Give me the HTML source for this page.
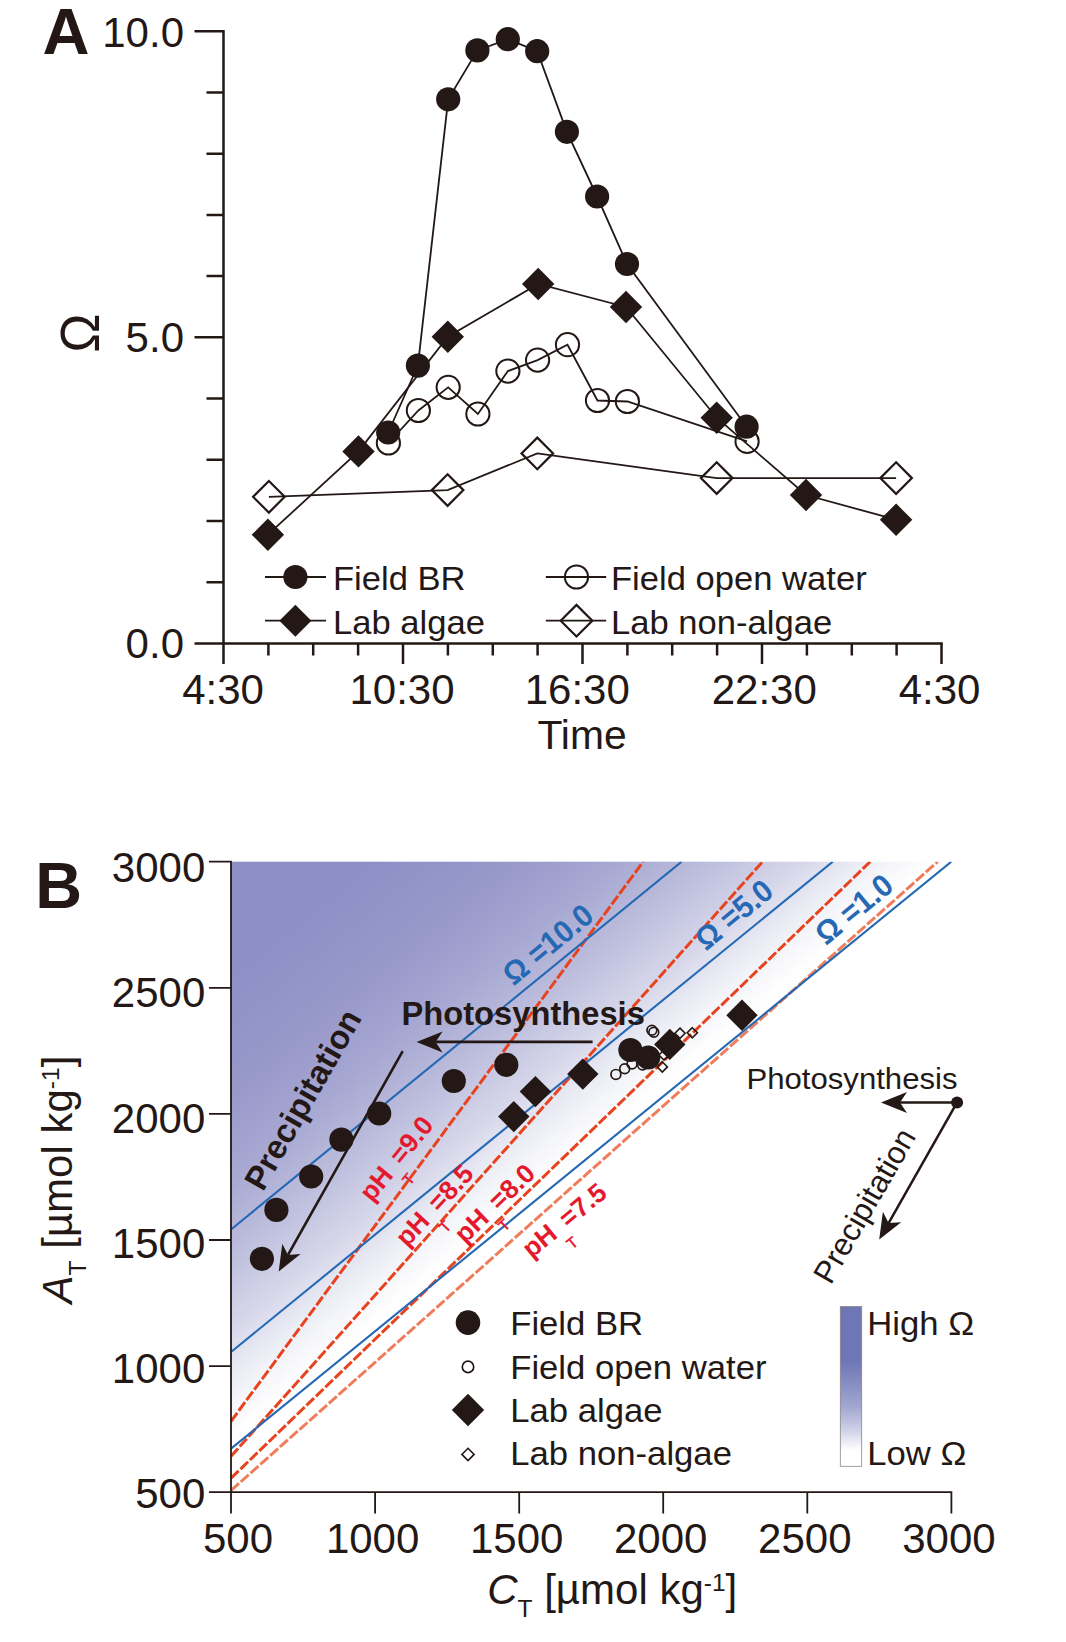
<!DOCTYPE html>
<html><head><meta charset="utf-8"><title>Figure</title>
<style>
html,body{margin:0;padding:0;background:#fff}
svg{display:block}
text{font-family:"Liberation Sans",sans-serif;fill:#231815}
.b{font-weight:bold}
.i{font-style:italic}
</style></head><body>
<svg width="1066" height="1642" viewBox="0 0 1066 1642">
<defs>
<linearGradient id="g1" gradientUnits="userSpaceOnUse" x1="231" y1="862" x2="522.6" y2="1217.6">
<stop offset="0.000" stop-color="#8e8fc5"/><stop offset="0.185" stop-color="#8e8fc5"/><stop offset="0.283" stop-color="#9293c7"/><stop offset="0.391" stop-color="#9899ca"/><stop offset="0.500" stop-color="#a3a4d0"/><stop offset="0.598" stop-color="#b2b3d7"/><stop offset="0.683" stop-color="#c1c2df"/><stop offset="0.793" stop-color="#d8d8eb"/><stop offset="0.865" stop-color="#eaecf4"/><stop offset="0.902" stop-color="#f3f4f9"/><stop offset="0.967" stop-color="#fefefe"/><stop offset="1.000" stop-color="#ffffff"/></linearGradient>
<linearGradient id="g2" x1="0" y1="0" x2="0" y2="1"><stop offset="0" stop-color="#6e76b6"/><stop offset="0.34" stop-color="#6e76b6"/><stop offset="0.62" stop-color="#a0a5d0"/><stop offset="0.77" stop-color="#cdd0e6"/><stop offset="0.9" stop-color="#ffffff"/><stop offset="1" stop-color="#ffffff"/></linearGradient>
<clipPath id="cp"><rect x="231.0" y="861.7" width="720.8" height="630.5"/></clipPath>
</defs>
<rect width="1066" height="1642" fill="#fff"/>
<g stroke="#231815" stroke-width="2.5" fill="none">
<path d="M223.5 29.9V643.5H942.8"/>
<path d="M223.5 31.2h-29.0M223.5 92.4h-17.0M223.5 153.7h-17.0M223.5 214.9h-17.0M223.5 276.1h-17.0M223.5 337.3h-29.0M223.5 398.6h-17.0M223.5 459.8h-17.0M223.5 521.0h-17.0M223.5 582.3h-17.0M223.5 643.5h-29.0M223.5 643.5v20.5M268.4 643.5v12.0M313.2 643.5v12.0M358.1 643.5v12.0M403.0 643.5v20.5M447.9 643.5v12.0M492.8 643.5v12.0M537.6 643.5v12.0M582.5 643.5v20.5M627.4 643.5v12.0M672.2 643.5v12.0M717.1 643.5v12.0M762.0 643.5v20.5M806.9 643.5v12.0M851.8 643.5v12.0M896.6 643.5v12.0M941.5 643.5v20.5"/>
</g>
<g font-size="42" text-anchor="end">
<text x="184" y="46.5">10.0</text>
<text x="184" y="352.4">5.0</text>
<text x="184" y="658.4">0.0</text>
</g>
<g font-size="42" text-anchor="middle">
<text x="223.0" y="704.2">4:30</text>
<text x="402.0" y="704.2">10:30</text>
<text x="577.3" y="704.2">16:30</text>
<text x="764.3" y="704.2">22:30</text>
<text x="939.5" y="704.2">4:30</text>
</g>
<text x="582" y="749.3" font-size="40.8" text-anchor="middle">Time</text>
<text class="b" x="42.6" y="53.7" font-size="65" textLength="47" lengthAdjust="spacingAndGlyphs">A</text>
<text transform="translate(99.4 333) rotate(-90) scale(1 1.055)" font-size="52.6" text-anchor="middle">Ω</text>
<circle cx="388.4" cy="443.0" r="11.6" fill="none" stroke="#231815" stroke-width="2.0"/>
<circle cx="418.4" cy="410.5" r="11.6" fill="none" stroke="#231815" stroke-width="2.0"/>
<circle cx="448.2" cy="387.3" r="11.6" fill="none" stroke="#231815" stroke-width="2.0"/>
<circle cx="477.9" cy="414.0" r="11.6" fill="none" stroke="#231815" stroke-width="2.0"/>
<circle cx="507.9" cy="371.1" r="11.6" fill="none" stroke="#231815" stroke-width="2.0"/>
<circle cx="537.6" cy="360.1" r="11.6" fill="none" stroke="#231815" stroke-width="2.0"/>
<circle cx="567.5" cy="344.7" r="11.6" fill="none" stroke="#231815" stroke-width="2.0"/>
<circle cx="597.5" cy="400.5" r="11.6" fill="none" stroke="#231815" stroke-width="2.0"/>
<circle cx="627.4" cy="401.5" r="11.6" fill="none" stroke="#231815" stroke-width="2.0"/>
<circle cx="747.1" cy="441.4" r="11.6" fill="none" stroke="#231815" stroke-width="2.0"/>
<path d="M268.9 481.0l15.8 15.8l-15.8 15.8l-15.8 -15.8z" fill="none" stroke="#231815" stroke-width="2.2"/>
<path d="M447.6 474.3l15.8 15.8l-15.8 15.8l-15.8 -15.8z" fill="none" stroke="#231815" stroke-width="2.2"/>
<path d="M537.3 437.6l15.8 15.8l-15.8 15.8l-15.8 -15.8z" fill="none" stroke="#231815" stroke-width="2.2"/>
<path d="M716.7 462.3l15.8 15.8l-15.8 15.8l-15.8 -15.8z" fill="none" stroke="#231815" stroke-width="2.2"/>
<path d="M896.1 462.3l15.8 15.8l-15.8 15.8l-15.8 -15.8z" fill="none" stroke="#231815" stroke-width="2.2"/>
<polyline points="268.9,496.8 447.6,490.1 537.3,453.4 716.7,478.1 896.1,478.1" fill="none" stroke="#231815" stroke-width="1.8" stroke-linejoin="miter"/>
<polyline points="388.4,443.0 418.4,410.5 448.2,387.3 477.9,414.0 507.9,371.1 537.6,360.1 567.5,344.7 597.5,400.5 627.4,401.5 747.1,441.4" fill="none" stroke="#231815" stroke-width="1.8" stroke-linejoin="miter"/>
<polyline points="267.9,534.7 358.5,451.4 447.8,336.7 538.2,284.0 626.0,307.0 716.7,417.7 806.0,495.0 896.1,519.7" fill="none" stroke="#231815" stroke-width="1.8" stroke-linejoin="miter"/>
<polyline points="388.2,432.5 417.9,365.6 448.2,99.3 477.4,50.4 507.8,39.2 537.2,51.2 566.9,131.8 597.1,196.5 627.0,264.0 746.6,426.7" fill="none" stroke="#231815" stroke-width="1.8" stroke-linejoin="miter"/>
<path d="M267.9 518.5l16.2 16.2l-16.2 16.2l-16.2 -16.2z" fill="#231815"/>
<path d="M358.5 435.2l16.2 16.2l-16.2 16.2l-16.2 -16.2z" fill="#231815"/>
<path d="M447.8 320.5l16.2 16.2l-16.2 16.2l-16.2 -16.2z" fill="#231815"/>
<path d="M538.2 267.8l16.2 16.2l-16.2 16.2l-16.2 -16.2z" fill="#231815"/>
<path d="M626.0 290.8l16.2 16.2l-16.2 16.2l-16.2 -16.2z" fill="#231815"/>
<path d="M716.7 401.5l16.2 16.2l-16.2 16.2l-16.2 -16.2z" fill="#231815"/>
<path d="M806.0 478.8l16.2 16.2l-16.2 16.2l-16.2 -16.2z" fill="#231815"/>
<path d="M896.1 503.5l16.2 16.2l-16.2 16.2l-16.2 -16.2z" fill="#231815"/>
<circle cx="388.2" cy="432.5" r="12.1" fill="#231815"/>
<circle cx="417.9" cy="365.6" r="12.1" fill="#231815"/>
<circle cx="448.2" cy="99.3" r="12.1" fill="#231815"/>
<circle cx="477.4" cy="50.4" r="12.1" fill="#231815"/>
<circle cx="507.8" cy="39.2" r="12.1" fill="#231815"/>
<circle cx="537.2" cy="51.2" r="12.1" fill="#231815"/>
<circle cx="566.9" cy="131.8" r="12.1" fill="#231815"/>
<circle cx="597.1" cy="196.5" r="12.1" fill="#231815"/>
<circle cx="627.0" cy="264.0" r="12.1" fill="#231815"/>
<circle cx="746.6" cy="426.7" r="12.1" fill="#231815"/>
<path d="M265.0 577.0H326.0" stroke="#231815" stroke-width="1.8"/>
<circle cx="295.4" cy="577.0" r="12.1" fill="#231815"/>
<text transform="translate(333.0 590.3) scale(1.045 1)" font-size="33.1">Field BR</text>
<path d="M265.0 620.7H326.0" stroke="#231815" stroke-width="1.8"/>
<path d="M295.4 604.7l16.0 16.0l-16.0 16.0l-16.0 -16.0z" fill="#231815"/>
<text transform="translate(333.0 634.0) scale(1.045 1)" font-size="33.1">Lab algae</text>
<circle cx="576.5" cy="577.0" r="11.6" fill="none" stroke="#231815" stroke-width="2.0"/>
<path d="M545.8 577.0H606.2" stroke="#231815" stroke-width="1.8"/>
<text transform="translate(611.0 590.3) scale(1.045 1)" font-size="33.1">Field open water</text>
<path d="M576.5 604.9l15.8 15.8l-15.8 15.8l-15.8 -15.8z" fill="none" stroke="#231815" stroke-width="2.2"/>
<path d="M545.8 620.7H606.2" stroke="#231815" stroke-width="1.8"/>
<text transform="translate(611.0 634.0) scale(1.045 1)" font-size="33.1">Lab non-algae</text>
<rect x="231.0" y="861.7" width="720.4" height="630.5" fill="url(#g1)"/>
<g clip-path="url(#cp)">
<path d="M231.0 1421.3L643.2 861.7" stroke="#e8431f" stroke-width="3" stroke-dasharray="10.6 2.5" fill="none"/>
<path d="M231.0 1456.3L762.6 861.7" stroke="#e8431f" stroke-width="3" stroke-dasharray="10.6 2.5" fill="none"/>
<path d="M231.0 1478.2L870.2 861.7" stroke="#e8431f" stroke-width="3" stroke-dasharray="10.6 2.5" fill="none"/>
<path d="M231.0 1490.5L937.7 861.7" stroke="#ef7d5c" stroke-width="3" stroke-dasharray="10.6 2.5" fill="none"/>
<path d="M231.0 1229.5L681.6 861.7" stroke="#2568b4" stroke-width="2.1" fill="none"/>
<path d="M231.0 1352.0L832.8 861.7" stroke="#2568b4" stroke-width="2.1" fill="none"/>
<path d="M231.0 1448.7L951.3 861.7" stroke="#2568b4" stroke-width="2.1" fill="none"/>
</g>
<g stroke="#231815" stroke-width="1.8" fill="none">
<path d="M231.0 860.8V1492.2H952.3M231.0 861.7H209M231.0 1492.2V1513.5M231.0 987.8H209M375.1 1492.2V1513.5M231.0 1113.9H209M519.2 1492.2V1513.5M231.0 1240.0H209M663.2 1492.2V1513.5M231.0 1366.1H209M807.3 1492.2V1513.5M231.0 1492.2H209M951.4 1492.2V1513.5"/>
</g>
<g font-size="42" text-anchor="end">
<text x="205.3" y="882.1">3000</text>
<text x="205.3" y="1007.3">2500</text>
<text x="205.3" y="1132.6">2000</text>
<text x="205.3" y="1257.8">1500</text>
<text x="205.3" y="1383.1">1000</text>
<text x="205.3" y="1508.3">500</text>
</g>
<g font-size="42" text-anchor="middle">
<text x="238.0" y="1552.6">500</text>
<text x="372.6" y="1552.6">1000</text>
<text x="516.7" y="1552.6">1500</text>
<text x="660.7" y="1552.6">2000</text>
<text x="804.8" y="1552.6">2500</text>
<text x="948.9" y="1552.6">3000</text>
</g>
<text class="b" x="35.3" y="907.8" font-size="64.8">B</text>
<text transform="translate(487.2 1603.6)" font-size="42"><tspan class="i">C</tspan><tspan font-size="24.5" dy="13.5">T</tspan><tspan dy="-13.5"> [µmol kg</tspan><tspan font-size="24.5" dy="-13">-1</tspan><tspan dy="13">]</tspan></text>
<text transform="translate(72.1 1303.4) rotate(-90)" font-size="42"><tspan class="i">A</tspan><tspan font-size="24.5" dy="13.5">T</tspan><tspan dy="-13.5"> [µmol kg</tspan><tspan font-size="24.5" dy="-13">-1</tspan><tspan dy="13">]</tspan></text>
<text class="b" transform="translate(513.5 986.5) rotate(-39.5) scale(1 1.06)" font-size="29.5" style="fill:#2568b4">Ω =10.0</text>
<text class="b" transform="translate(706.0 951.5) rotate(-39.5) scale(1 1.06)" font-size="29.5" style="fill:#2568b4">Ω =5.0</text>
<text class="b" transform="translate(826.0 946.0) rotate(-39.5) scale(1 1.06)" font-size="29.5" style="fill:#2568b4">Ω =1.0</text>
<text class="b" transform="translate(372.0 1203.0) rotate(-51.0)" font-size="26.5" style="fill:#e5192d">pH<tspan font-size="15.4" dx="1.5" dy="18.7" style="font-weight:normal;stroke:#e5192d;stroke-width:0.5">T</tspan><tspan dx="1.2" dy="-18.7">=9.0</tspan></text>
<text class="b" transform="translate(407.0 1248.0) rotate(-47.0)" font-size="26.5" style="fill:#e5192d">pH<tspan font-size="15.4" dx="1.5" dy="18.7" style="font-weight:normal;stroke:#e5192d;stroke-width:0.5">T</tspan><tspan dx="1.2" dy="-18.7">=8.5</tspan></text>
<text class="b" transform="translate(465.0 1244.5) rotate(-44.0)" font-size="26.5" style="fill:#e5192d">pH<tspan font-size="15.4" dx="1.5" dy="18.7" style="font-weight:normal;stroke:#e5192d;stroke-width:0.5">T</tspan><tspan dx="1.2" dy="-18.7">=8.0</tspan></text>
<text class="b" transform="translate(531.6 1259.0) rotate(-39.5)" font-size="26.5" style="fill:#e5192d">pH<tspan font-size="15.4" dx="1.5" dy="18.7" style="font-weight:normal;stroke:#e5192d;stroke-width:0.5">T</tspan><tspan dx="1.2" dy="-18.7">=7.5</tspan></text>
<circle cx="615.9" cy="1074.4" r="4.9" fill="none" stroke="#231815" stroke-width="1.7"/>
<circle cx="624.7" cy="1068.8" r="4.9" fill="none" stroke="#231815" stroke-width="1.7"/>
<circle cx="632.0" cy="1064.0" r="4.9" fill="none" stroke="#231815" stroke-width="1.7"/>
<circle cx="642.6" cy="1065.0" r="4.9" fill="none" stroke="#231815" stroke-width="1.7"/>
<circle cx="651.9" cy="1030.3" r="4.9" fill="none" stroke="#231815" stroke-width="1.7"/>
<circle cx="653.8" cy="1032.2" r="4.9" fill="none" stroke="#231815" stroke-width="1.7"/>
<path d="M680.0 1028.1l5.1 5.1l-5.1 5.1l-5.1 -5.1z" fill="none" stroke="#231815" stroke-width="1.6"/>
<path d="M692.3 1027.7l5.1 5.1l-5.1 5.1l-5.1 -5.1z" fill="none" stroke="#231815" stroke-width="1.6"/>
<path d="M662.3 1061.8l5.1 5.1l-5.1 5.1l-5.1 -5.1z" fill="none" stroke="#231815" stroke-width="1.6"/>
<path d="M664.0 1049.9l5.1 5.1l-5.1 5.1l-5.1 -5.1z" fill="none" stroke="#231815" stroke-width="1.6"/>
<path d="M513.8 1100.9l15.7 15.7l-15.7 15.7l-15.7 -15.7z" fill="#231815"/>
<path d="M535.4 1075.9l15.7 15.7l-15.7 15.7l-15.7 -15.7z" fill="#231815"/>
<path d="M582.8 1058.4l15.7 15.7l-15.7 15.7l-15.7 -15.7z" fill="#231815"/>
<path d="M669.8 1028.7l15.7 15.7l-15.7 15.7l-15.7 -15.7z" fill="#231815"/>
<path d="M742.0 999.6l15.7 15.7l-15.7 15.7l-15.7 -15.7z" fill="#231815"/>
<circle cx="261.9" cy="1258.8" r="12.1" fill="#231815"/>
<circle cx="276.4" cy="1209.9" r="12.1" fill="#231815"/>
<circle cx="311.2" cy="1176.5" r="12.1" fill="#231815"/>
<circle cx="341.4" cy="1139.6" r="12.1" fill="#231815"/>
<circle cx="379.2" cy="1113.5" r="12.1" fill="#231815"/>
<circle cx="453.8" cy="1081.0" r="12.1" fill="#231815"/>
<circle cx="506.3" cy="1064.8" r="12.1" fill="#231815"/>
<circle cx="630.4" cy="1050.0" r="12.1" fill="#231815"/>
<circle cx="648.2" cy="1057.5" r="12.1" fill="#231815"/>
<path d="M592.6 1041.9L435.6 1041.9" stroke="#231815" stroke-width="2.6" fill="none"/><path d="M416.6 1041.9L442.6 1031.4L435.6 1041.9L442.6 1052.4z" fill="#231815"/>
<path d="M402.7 1051.2L288.0 1254.9" stroke="#231815" stroke-width="2.6" fill="none"/><path d="M278.7 1271.5L282.3 1243.7L288.0 1254.9L300.6 1254.0z" fill="#231815"/>
<path d="M957.1 1102.4L900.0 1102.4" stroke="#231815" stroke-width="2.5" fill="none"/><path d="M881.0 1102.4L907.0 1091.9L900.0 1102.4L907.0 1112.9z" fill="#231815"/>
<path d="M957.1 1102.4L888.6 1223.1" stroke="#231815" stroke-width="2.5" fill="none"/><path d="M879.2 1239.6L882.9 1211.8L888.6 1223.1L901.2 1222.2z" fill="#231815"/>
<circle cx="957.1" cy="1102.4" r="6" fill="#231815"/>
<text class="b" x="401.5" y="1024.5" font-size="32.7">Photosynthesis</text>
<text class="b" transform="translate(263 1192.5) rotate(-60.3)" font-size="33.2">Precipitation</text>
<text x="746.5" y="1089.4" font-size="29" textLength="211" lengthAdjust="spacingAndGlyphs">Photosynthesis</text>
<text transform="translate(830.7 1285.7) rotate(-60)" font-size="31.3">Precipitation</text>
<circle cx="468.0" cy="1322.6" r="12.3" fill="#231815"/>
<circle cx="468.0" cy="1366.9" r="5.7" fill="none" stroke="#231815" stroke-width="1.7"/>
<path d="M468.0 1393.8l16.2 16.2l-16.2 16.2l-16.2 -16.2z" fill="#231815"/>
<path d="M468.0 1448.3l6.1 6.1l-6.1 6.1l-6.1 -6.1z" fill="none" stroke="#231815" stroke-width="1.6"/>
<text transform="translate(510.2 1335.0) scale(1.045 1)" font-size="33.2">Field BR</text>
<text transform="translate(510.2 1378.6) scale(1.045 1)" font-size="33.2">Field open water</text>
<text transform="translate(510.2 1422.0) scale(1.045 1)" font-size="33.2">Lab algae</text>
<text transform="translate(510.2 1464.8) scale(1.045 1)" font-size="33.2">Lab non-algae</text>
<rect x="840.3" y="1306.5" width="21.4" height="159.8" fill="url(#g2)" stroke="#8a8585" stroke-width="0.8"/>
<text transform="translate(867.2 1334.6) scale(1.045 1)" font-size="33.2">High Ω</text>
<text transform="translate(867.2 1465.3) scale(1.045 1)" font-size="33.2">Low Ω</text>
</svg>
</body></html>
